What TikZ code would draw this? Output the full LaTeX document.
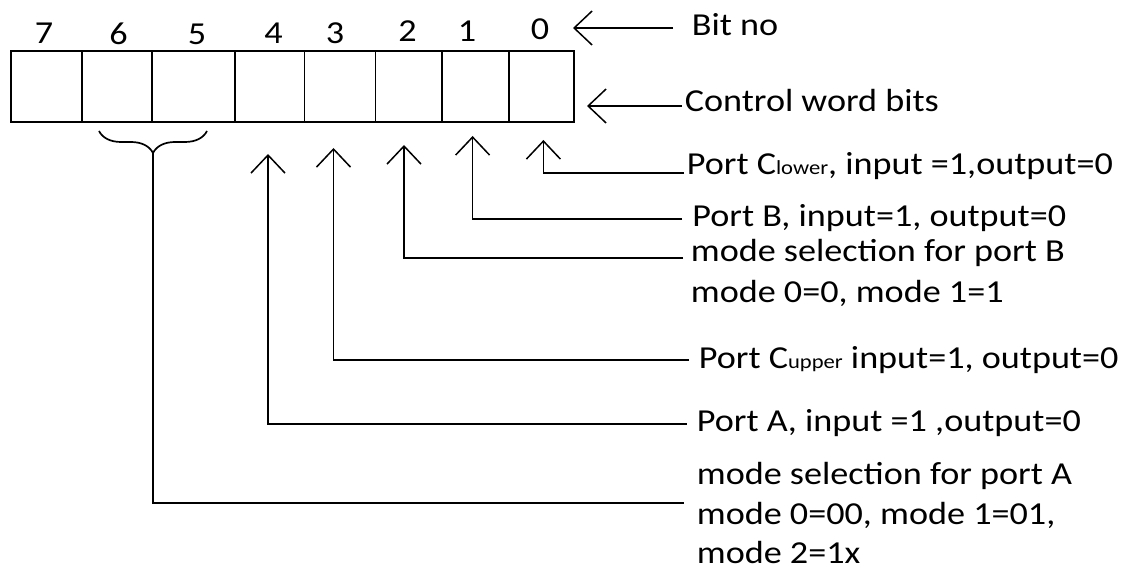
\documentclass[tikz,border=0pt]{standalone}
\usepackage{fontspec}
\setmainfont{Carlito}[FakeStretch=1.13]
\usetikzlibrary{arrows.meta,decorations.pathreplacing}
\newcommand{\smallsub}[1]{{\fontsize{20}{20}\selectfont #1}}
\begin{document}
\begin{tikzpicture}[x=1pt,y=-1pt,
  line width=1.7pt,
  cell/.style={draw, line width=1.7pt, minimum height=71pt, inner sep=0pt},
  digit/.style={anchor=base, inner sep=0pt, font=\fontsize{32}{32}\selectfont},
  lbl/.style={anchor=base west, inner sep=0pt, font=\fontsize{32}{40}\selectfont},
  tip/.style={-{Straight Barb[length=18pt,width=34pt,line width=1.5pt]}},
  conn/.style={line width=1.7pt}]
\useasboundingbox (0,0) rectangle (1132,569);
% cells
\node[cell, minimum width=71.6pt] (c7) at (46.5,86.5) {};
\node[cell, minimum width=70pt]   (c6) at (117.3,86.5) {};
\node[cell, minimum width=82.7pt] (c5) at (193.65,86.5) {};
\node[cell, minimum width=69.6pt] (c4) at (269.8,86.5) {};
\node[cell, minimum width=70.8pt] (c3) at (340,86.5) {};
\node[cell, minimum width=66.6pt] (c2) at (408.7,86.5) {};
\node[cell, minimum width=67pt]   (c1) at (475.5,86.5) {};
\node[cell, minimum width=65pt]   (c0) at (541.5,86.5) {};
% digits
\node[digit] (d7) at (44,43.5) {7};
\node[digit] (d6) at (118.6,45) {6};
\node[digit] (d5) at (197,45) {5};
\node[digit] (d4) at (273.6,43.5) {4};
\node[digit] (d3) at (335,43.5) {3};
\node[digit] (d2) at (407.6,41.7) {2};
\node[digit] (d1) at (467,41.7) {1};
\node[digit] (d0) at (540,40) {0};
% labels
\node[lbl] (bitno) at (691,36) {Bit no};
\node[lbl] (cwb) at (684,111.5) {Control word bits};
\node[lbl] (l0) at (686,175) {Port C\smallsub{lower}, input =1,output=0};
\node[lbl] (l1) at (691.5,226.5) {Port B, input=1, output=0};
\node[lbl] (l2a) at (690,261.5) {mode selection for port B};
\node[lbl] (l2b) at (690,302) {mode 0=0, mode 1=1};
\node[lbl] (l3) at (698,368) {Port C\smallsub{upper} input=1, output=0};
\node[lbl] (l4) at (696,431.5) {Port A, input =1 ,output=0};
\node[lbl] (l5a) at (696,484) {mode selection for port A};
\node[lbl] (l5b) at (696,524.5) {mode 0=00, mode 1=01,};
\node[lbl] (l5c) at (696,563) {mode 2=1x};
% top arrows
\coordinate (bs) at (673,28);
\coordinate (bt) at (573,28);
\coordinate (cs) at (682,106);
\coordinate (ct) at (587,106);
\draw[tip] (bs) -- (bt);
\draw[tip] (cs) -- (ct);
% bit arrows
\coordinate (t0) at (543.4,140);
\coordinate (e0) at (684,173);
\coordinate (t1) at (472.6,136);
\coordinate (e1) at (682,219);
\coordinate (t2) at (404,145);
\coordinate (e2) at (683,257.7);
\coordinate (t3) at (333.5,148);
\coordinate (e3) at (689,360);
\coordinate (t4) at (268,154);
\coordinate (e4) at (686.5,423.7);
\draw[tip] (e0) -| (t0);
\draw[tip] (e1) -| (t1);
\draw[tip] (e2) -| (t2);
\draw[tip] (e3) -| (t3);
\draw[tip] (e4) -| (t4);
% brace for bits 6,5
\draw[conn, decorate, decoration={brace, mirror, amplitude=22pt}] (99,131) -- (207,131);
\coordinate (bb) at (153,153);
\coordinate (e5) at (684,503);
\draw[conn] (bb) |- (e5);
\end{tikzpicture}
\end{document}
